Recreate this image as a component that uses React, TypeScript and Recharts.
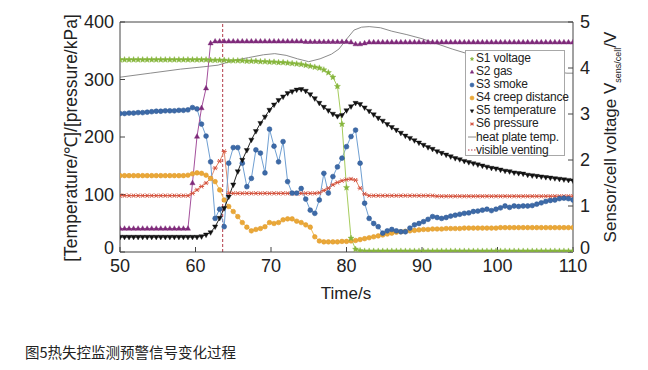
import React from "react";
import { LineChart, Line, XAxis, YAxis, ReferenceLine } from "recharts";

// ---------- data ----------
const TIME = [
  50, 50.6, 51.2, 51.8, 52.4, 53, 53.6, 54.2, 54.8, 55.4,
  56, 56.6, 57.2, 57.8, 58.4, 59, 59.6, 60.2, 60.8, 61.4,
  62, 62.6, 63.2, 63.8, 64.4, 65, 65.6, 66.2, 66.8, 67.4,
  68, 68.6, 69.2, 69.8, 70.4, 71, 71.6, 72.2, 72.8, 73.4,
  74, 74.6, 75.2, 75.8, 76.4, 77, 77.6, 78.2, 78.8, 79.4,
  80, 80.6, 81.2, 81.8, 82.4, 83, 83.6, 84.2, 84.8, 85.4,
  86, 86.6, 87.2, 87.8, 88.4, 89, 89.6, 90.2, 90.8, 91.4,
  92, 92.6, 93.2, 93.8, 94.4, 95, 95.6, 96.2, 96.8, 97.4,
  98, 98.6, 99.2, 99.8, 100.4, 101, 101.6, 102.2, 102.8, 103.4,
  104, 104.6, 105.2, 105.8, 106.4, 107, 107.6, 108.2, 108.8, 109.4,
  110,
];

// S1 voltage [V]
const S1_VOLTAGE = [
  4.18, 4.18, 4.18, 4.18, 4.18, 4.18, 4.18, 4.18, 4.18, 4.18,
  4.18, 4.18, 4.18, 4.18, 4.18, 4.18, 4.18, 4.18, 4.18, 4.18,
  4.17, 4.17, 4.17, 4.17, 4.16, 4.16, 4.16, 4.16, 4.15, 4.15,
  4.15, 4.14, 4.14, 4.13, 4.13, 4.12, 4.12, 4.11, 4.1, 4.09,
  4.08, 4.06, 4.04, 4.02, 4.0, 3.96, 3.9, 3.8, 3.6, 2.78,
  1.4, 0.3, 0.06, 0.03, 0.02, 0.02, 0.02, 0.02, 0.02, 0.02,
  0.02, 0.02, 0.02, 0.02, 0.02, 0.02, 0.02, 0.02, 0.02, 0.02,
  0.02, 0.02, 0.02, 0.02, 0.02, 0.02, 0.02, 0.02, 0.02, 0.02,
  0.02, 0.02, 0.02, 0.02, 0.02, 0.02, 0.02, 0.02, 0.02, 0.02,
  0.02, 0.02, 0.02, 0.02, 0.02, 0.02, 0.02, 0.02, 0.02, 0.02,
  0.02,
];

// S2 gas [V]
const S2_GAS = [
  0.51, 0.51, 0.51, 0.51, 0.51, 0.51, 0.51, 0.51, 0.51, 0.51,
  0.51, 0.51, 0.51, 0.51, 0.51, 0.51, 1.5, 2.51, 3.13, 3.56,
  4.54, 4.58, 4.58, 4.58, 4.58, 4.58, 4.58, 4.58, 4.58, 4.58,
  4.58, 4.58, 4.58, 4.58, 4.58, 4.58, 4.58, 4.58, 4.58, 4.58,
  4.58, 4.57, 4.57, 4.57, 4.57, 4.57, 4.57, 4.57, 4.57, 4.57,
  4.57, 4.56, 4.52, 4.52, 4.54, 4.56, 4.56, 4.56, 4.56, 4.56,
  4.56, 4.56, 4.56, 4.56, 4.56, 4.56, 4.56, 4.56, 4.56, 4.56,
  4.56, 4.56, 4.56, 4.56, 4.56, 4.56, 4.56, 4.56, 4.56, 4.56,
  4.56, 4.56, 4.56, 4.56, 4.56, 4.56, 4.56, 4.56, 4.56, 4.56,
  4.56, 4.56, 4.56, 4.56, 4.56, 4.56, 4.56, 4.56, 4.56, 4.56,
  4.56,
];

// S3 smoke [V]
const S3_SMOKE = [
  3.01, 3.01, 3.02, 3.02, 3.03, 3.03, 3.04, 3.05, 3.06, 3.06,
  3.07, 3.07, 3.07, 3.08, 3.08, 3.09, 3.14, 3.11, 2.78, 2.52,
  1.96, 0.73, 0.93, 0.55, 1.93, 2.27, 2.27, 1.93, 1.42, 1.6,
  2.22, 2.15, 1.72, 2.67, 2.3, 1.96, 2.4, 1.53, 1.28, 1.28,
  1.38, 1.15, 0.91, 0.84, 1.13, 1.71, 1.28, 1.64, 1.85, 2.04,
  2.29, 2.51, 2.65, 1.93, 1.06, 0.73, 0.62, 0.55, 0.41, 0.46,
  0.49, 0.46, 0.44, 0.44, 0.52, 0.59, 0.62, 0.66, 0.71, 0.77,
  0.75, 0.73, 0.75, 0.78, 0.8, 0.82, 0.84, 0.85, 0.88, 0.89,
  0.91, 0.93, 0.9, 0.93, 0.96, 1.0, 0.97, 1.0, 0.99, 1.0,
  1.0, 1.01, 1.04, 1.07, 1.1, 1.12, 1.13, 1.16, 1.17, 1.16,
  1.13,
];

// S4 creep distance [V]
const S4_CREEP = [
  1.66, 1.66, 1.66, 1.66, 1.66, 1.66, 1.66, 1.66, 1.66, 1.66,
  1.66, 1.66, 1.66, 1.66, 1.66, 1.67, 1.7, 1.72, 1.71, 1.67,
  1.6, 1.53, 1.35, 1.13, 0.99, 0.88, 0.77, 0.64, 0.54, 0.46,
  0.49, 0.51, 0.55, 0.64, 0.62, 0.64, 0.7, 0.72, 0.72, 0.67,
  0.64, 0.59, 0.54, 0.33, 0.24, 0.22, 0.22, 0.22, 0.22, 0.23,
  0.23, 0.24, 0.25, 0.27, 0.29, 0.31, 0.33, 0.35, 0.37, 0.39,
  0.41, 0.43, 0.44, 0.45, 0.46, 0.47, 0.48, 0.49, 0.49, 0.5,
  0.5, 0.5, 0.51, 0.51, 0.51, 0.51, 0.52, 0.52, 0.52, 0.52,
  0.52, 0.52, 0.52, 0.52, 0.53, 0.53, 0.53, 0.53, 0.53, 0.53,
  0.53, 0.53, 0.53, 0.53, 0.53, 0.53, 0.53, 0.53, 0.53, 0.53,
  0.53,
];

// S5 temperature [°C]
const S5_TEMP = [
  26, 26, 26, 26, 26, 26, 26, 26, 26, 26,
  26, 26, 26, 26, 26, 26, 26, 26, 27, 30,
  34, 44, 59, 76, 96, 117, 140, 160, 177, 195,
  210, 224, 235, 247, 256, 264, 270, 276, 279, 282,
  283, 280, 274, 267, 259, 252, 246, 240, 236, 238,
  246, 253, 259, 257, 251, 245, 239, 233, 228, 222,
  217, 212, 207, 202, 198, 194, 190, 186, 182, 179,
  175, 172, 169, 166, 163, 161, 158, 156, 154, 152,
  150, 148, 146, 145, 143, 141, 140, 138, 137, 136,
  134, 133, 132, 131, 130, 129, 128, 127, 126, 125,
  124,
];

// S6 pressure [kPa]
const S6_PRESSURE = [
  98, 98, 98, 98, 98, 98, 98, 98, 98, 98,
  98, 98, 98, 98, 98, 98, 102, 108, 114, 120,
  128, 146, 158, 175, 102, 102, 102, 102, 102, 102,
  102, 102, 102, 102, 102, 102, 102, 102, 102, 102,
  102, 102, 102, 102, 103, 107, 111, 117, 121, 124,
  126, 127, 125, 111, 101, 98, 98, 98, 98, 98,
  98, 98, 98, 98, 98, 98, 98, 98, 98, 98,
  97, 97, 97, 97, 97, 97, 97, 97, 97, 97,
  97, 97, 97, 97, 97, 97, 97, 97, 97, 97,
  97, 97, 97, 97, 97, 97, 97, 97, 97, 97,
  97,
];

// heat plate temperature [°C]
const HEAT_TIME = [50, 54, 58, 61, 63, 65, 67, 69, 70.5, 72, 73.5, 75, 76.5, 78, 79, 80, 81, 82, 83, 84.5, 86, 88, 90, 92, 94, 96, 98, 100, 102, 104, 106, 108, 109.2, 110];
const HEAT_TEMP = [304, 311, 318, 322, 325, 333, 338, 343, 345, 342, 336, 331, 336, 344, 353, 370, 386, 391, 392, 390, 384, 378, 371, 362, 353, 345, 338, 332, 326, 321, 317, 313, 311, 311];

const VENT_TIME = 63.6;
const X_TICKS = [50, 60, 70, 80, 90, 100, 110];
const LEFT_TICKS = [0, 100, 200, 300, 400];
const RIGHT_TICKS = [0, 1, 2, 3, 4, 5];

const CAPTION = "图5热失控监测预警信号变化过程";

// ---------- chart ----------
const data = TIME.map((t, i) => ({
  t,
  s1: S1_VOLTAGE[i],
  s2: S2_GAS[i],
  s3: S3_SMOKE[i],
  s4: S4_CREEP[i],
  s5: S5_TEMP[i],
  s6: S6_PRESSURE[i],
}));
const heatData = HEAT_TIME.map((t, i) => ({ t, heat: HEAT_TEMP[i] }));

const FONT = "'Liberation Sans', Arial, sans-serif";

const C = {
  s1Line: "#a6cc5c", s1Mark: "#86b53c",
  s2Line: "#a4509c", s2Mark: "#7e2a7a",
  s3Line: "#6f9fd2", s3Mark: "#3d6aa8",
  s4Line: "#f3be55", s4Mark: "#eaa838",
  s5Line: "#222222", s5Mark: "#111111",
  s6Line: "#e38a6a", s6Mark: "#d4523e",
  heat: "#8c8c8c",
  vent: "#b23a48",
  axis: "#444444",
};

function starPoints(cx: number, cy: number, r: number) {
  const pts: string[] = [];
  for (let i = 0; i < 10; i++) {
    const a = -Math.PI / 2 + (i * Math.PI) / 5;
    const rr = i % 2 === 0 ? r : r * 0.45;
    pts.push(`${cx + rr * Math.cos(a)},${cy + rr * Math.sin(a)}`);
  }
  return pts.join(" ");
}

function Marker({ shape, cx, cy, r, fill, stroke }: any) {
  switch (shape) {
    case "circle":
      return <circle cx={cx} cy={cy} r={r} fill={fill} stroke={stroke} strokeWidth={0.6} />;
    case "triUp":
      return (
        <polygon
          points={`${cx},${cy - r} ${cx + r * 0.9},${cy + r * 0.6} ${cx - r * 0.9},${cy + r * 0.6}`}
          fill={fill}
          stroke={stroke}
          strokeWidth={0.4}
        />
      );
    case "triDown":
      return (
        <polygon
          points={`${cx},${cy + r} ${cx + r * 0.9},${cy - r * 0.6} ${cx - r * 0.9},${cy - r * 0.6}`}
          fill={fill}
          stroke={stroke}
          strokeWidth={0.4}
        />
      );
    case "star":
      return <polygon points={starPoints(cx, cy, r)} fill={fill} stroke={stroke} strokeWidth={0.4} />;
    case "aster":
      return (
        <g stroke={stroke} strokeWidth={1}>
          <line x1={cx - r} y1={cy} x2={cx + r} y2={cy} />
          <line x1={cx - r * 0.6} y1={cy - r * 0.8} x2={cx + r * 0.6} y2={cy + r * 0.8} />
          <line x1={cx - r * 0.6} y1={cy + r * 0.8} x2={cx + r * 0.6} y2={cy - r * 0.8} />
        </g>
      );
    default:
      return null;
  }
}

const makeDot = (shape: string, fill: string, stroke: string, r: number) => (props: any) => {
  const { cx, cy, index } = props;
  const key = `${shape}-${index}`;
  if (cx == null || cy == null || Number.isNaN(cx) || Number.isNaN(cy)) return <g key={key} />;
  return (
    <g key={key}>
      <Marker shape={shape} cx={cx} cy={cy} r={r} fill={fill} stroke={stroke} />
    </g>
  );
};

const tickStyle = { fontSize: 18, fill: "#222", fontFamily: FONT };

// y-axis tick: the "0" label is lifted a little so it does not collide with the x labels
const makeYTick = (anchor: "start" | "end") => (props: any) => {
  const { x, y, payload } = props;
  const lift = payload.value === 0 ? -4 : 0;
  return (
    <text
      x={x}
      y={y + lift}
      dy="0.355em"
      textAnchor={anchor}
      fontSize={18}
      fill="#222"
      fontFamily={FONT}
    >
      {payload.value}
    </text>
  );
};

const LEGEND = [
  { label: "S1 voltage", kind: "mark", shape: "star", fill: C.s1Mark, stroke: C.s1Mark, line: C.s1Line },
  { label: "S2 gas", kind: "mark", shape: "triUp", fill: C.s2Mark, stroke: C.s2Mark, line: C.s2Line },
  { label: "S3 smoke", kind: "mark", shape: "circle", fill: C.s3Mark, stroke: C.s3Mark, line: C.s3Line },
  { label: "S4 creep distance", kind: "mark", shape: "circle", fill: C.s4Mark, stroke: C.s4Mark, line: C.s4Line },
  { label: "S5 temperature", kind: "mark", shape: "triDown", fill: C.s5Mark, stroke: C.s5Mark, line: C.s5Line },
  { label: "S6 pressure", kind: "mark", shape: "aster", fill: C.s6Mark, stroke: C.s6Mark, line: C.s6Line },
  { label: "heat plate temp.", kind: "line", line: C.heat },
  { label: "visible venting", kind: "dash", line: C.vent },
];

function LegendBox() {
  return (
    <div
      style={{
        position: "absolute",
        left: 465,
        top: 50,
        width: 100,
        height: 106,
        boxSizing: "border-box",
        border: "1px solid #a8a8a8",
        background: "#fff",
        paddingTop: 1,
        fontFamily: FONT,
        fontSize: 12,
        color: "#222",
      }}
    >
      {LEGEND.map((it) => (
        <div key={it.label} style={{ height: 13.1, lineHeight: "13.1px", display: "flex", alignItems: "center", whiteSpace: "nowrap" }}>
          <svg width={9} height={10} style={{ flex: "none", marginLeft: 1 }}>
            {it.kind === "mark" && (
              <Marker shape={it.shape} cx={5} cy={5} r={2} fill={it.fill} stroke={it.stroke} />
            )}
            {it.kind === "line" && <line x1={1} y1={5} x2={9} y2={5} stroke={it.line} strokeWidth={1} />}
            {it.kind === "dash" && (
              <line x1={1} y1={5} x2={9} y2={5} stroke={it.line} strokeWidth={1} strokeDasharray="1.5 1.5" />
            )}
          </svg>
          <span style={{ letterSpacing: -0.2 }}>{it.label}</span>
        </div>
      ))}
    </div>
  );
}

export default function App() {
  return (
    <div style={{ position: "absolute", left: 0, top: 0, width: 648, height: 370, background: "#fff" }}>
      <LineChart width={648} height={310} data={data} margin={{ top: 22, right: 0, bottom: 8, left: 0 }}>
        <XAxis
          dataKey="t"
          type="number"
          domain={[50, 110]}
          ticks={X_TICKS}
          allowDataOverflow
          height={50}
          tickSize={-5}
          tickMargin={12}
          tick={tickStyle}
          stroke={C.axis}
          axisLine={{ stroke: C.axis }}
          tickLine={{ stroke: C.axis }}
          interval={0}
        />
        <YAxis
          yAxisId="left"
          domain={[0, 400]}
          ticks={LEFT_TICKS}
          allowDataOverflow
          width={120}
          tickSize={-5}
          tickMargin={11}
          tick={makeYTick("end")}
          stroke={C.axis}
          interval={0}
        />
        <YAxis
          yAxisId="right"
          orientation="right"
          domain={[0, 5]}
          ticks={RIGHT_TICKS}
          allowDataOverflow
          width={75}
          tickSize={-5}
          tickMargin={12}
          tick={makeYTick("start")}
          stroke={C.axis}
          interval={0}
        />
        <ReferenceLine yAxisId="left" y={400} stroke={C.axis} />
        <Line
          data={heatData}
          yAxisId="left"
          dataKey="heat"
          type="linear"
          stroke={C.heat}
          strokeWidth={1}
          dot={false}
          activeDot={false}
          isAnimationActive={false}
        />
        <ReferenceLine yAxisId="left" x={VENT_TIME} stroke={C.vent} strokeWidth={1} strokeDasharray="3 2" />
        <Line yAxisId="left" dataKey="s6" type="linear" stroke={C.s6Line} strokeWidth={1}
          dot={makeDot("aster", C.s6Mark, C.s6Mark, 2.6)} activeDot={false} isAnimationActive={false} />
        <Line yAxisId="right" dataKey="s4" type="linear" stroke={C.s4Line} strokeWidth={1}
          dot={makeDot("circle", C.s4Mark, "#e09a2a", 2.3)} activeDot={false} isAnimationActive={false} />
        <Line yAxisId="right" dataKey="s3" type="linear" stroke={C.s3Line} strokeWidth={1}
          dot={makeDot("circle", C.s3Mark, "#2f5a96", 2.4)} activeDot={false} isAnimationActive={false} />
        <Line yAxisId="left" dataKey="s5" type="linear" stroke={C.s5Line} strokeWidth={1}
          dot={makeDot("triDown", C.s5Mark, C.s5Mark, 2.9)} activeDot={false} isAnimationActive={false} />
        <Line yAxisId="right" dataKey="s2" type="linear" stroke={C.s2Line} strokeWidth={1}
          dot={makeDot("triUp", C.s2Mark, C.s2Mark, 2.9)} activeDot={false} isAnimationActive={false} />
        <Line yAxisId="right" dataKey="s1" type="linear" stroke={C.s1Line} strokeWidth={1}
          dot={makeDot("star", C.s1Mark, C.s1Mark, 3.2)} activeDot={false} isAnimationActive={false} />
      </LineChart>

      <LegendBox />

      {/* left axis title */}
      <div
        style={{
          position: "absolute",
          left: 70,
          top: 138,
          transform: "translate(-50%, -50%) rotate(-90deg)",
          whiteSpace: "nowrap",
          fontFamily: FONT,
          fontSize: 17.5,
          color: "#222",
        }}
      >
        [Temperature/℃]/[pressure/kPa]
      </div>

      {/* right axis title */}
      <div
        style={{
          position: "absolute",
          left: 612,
          top: 137,
          transform: "translate(-50%, -50%) rotate(-90deg)",
          whiteSpace: "nowrap",
          fontFamily: FONT,
          fontSize: 17,
          color: "#222",
        }}
      >
        Sensor/cell voltage V
        <sub style={{ fontSize: 9 }}>sens/cell</sub>/V
      </div>

      {/* x axis title */}
      <div
        style={{
          position: "absolute",
          left: 346,
          top: 294,
          transform: "translate(-50%, -50%)",
          whiteSpace: "nowrap",
          fontFamily: FONT,
          fontSize: 17,
          color: "#222",
        }}
      >
        Time/s
      </div>

      {/* caption */}
      <div
        style={{
          position: "absolute",
          left: 25,
          top: 343,
          whiteSpace: "nowrap",
          fontFamily: "'Noto Sans CJK SC', sans-serif",
          fontSize: 14.5,
          color: "#222",
          lineHeight: "18px",
        }}
      >
        {CAPTION}
      </div>
    </div>
  );
}
